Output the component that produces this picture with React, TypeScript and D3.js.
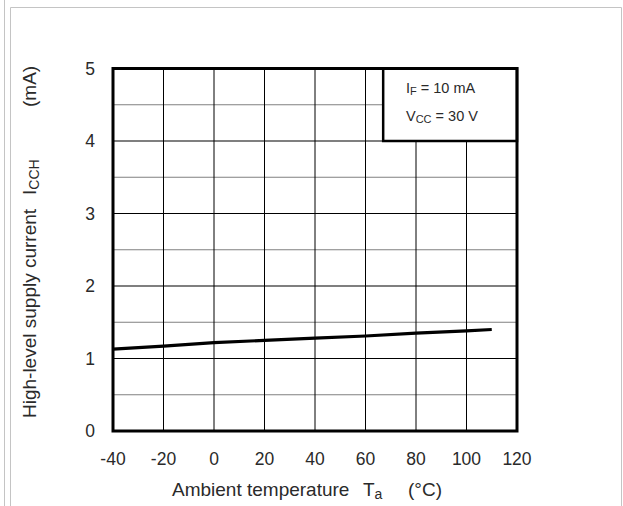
import React from "react";
import * as d3 from "d3";

const temps = [-40, -20, 0, 20, 40, 60, 80, 100, 110];
const currents = [1.13, 1.17, 1.22, 1.25, 1.28, 1.31, 1.35, 1.38, 1.4];
const xTicks = [-40, -20, 0, 20, 40, 60, 80, 100, 120];
const yTicks = [0, 1, 2, 3, 4, 5];
const yMinor = [0.5, 1.5, 2.5, 3.5, 4.5];

const W = 623;
const H = 506;

export default function App() {
  const x = d3.scaleLinear().domain([-40, 120]).range([113, 517]);
  const y = d3.scaleLinear().domain([0, 5]).range([431, 68.5]);
  const line = d3
    .line<number>()
    .x((_, i) => x(temps[i]))
    .y((d) => y(d));
  const font = "'Liberation Sans', Arial, sans-serif";
  const txt = "#2a2a2a";
  return (
    <svg
      width={W}
      height={H}
      style={{ position: "absolute", left: 0, top: 0, background: "#fff" }}
      fontFamily={font}
    >
      <rect x={0} y={0} width={W} height={H} fill="#fff" />
      {/* page borders */}
      <line x1={4.5} x2={4.5} y1={0} y2={H} stroke="#c4c4c4" strokeWidth={1} />
      <line x1={10.5} x2={10.5} y1={7.5} y2={H} stroke="#c4c4c4" strokeWidth={1} />
      <line x1={10.5} x2={621.5} y1={7.5} y2={7.5} stroke="#c4c4c4" strokeWidth={1} />
      <line x1={621.5} x2={621.5} y1={7.5} y2={H} stroke="#c4c4c4" strokeWidth={1} />

      {/* grid */}
      {yMinor.map((v) => (
        <line key={"m" + v} x1={x(-40)} x2={x(120)} y1={y(v)} y2={y(v)} stroke="#808080" strokeWidth={1.2} />
      ))}
      {yTicks.map((v) => (
        <line key={"y" + v} x1={x(-40)} x2={x(120)} y1={y(v)} y2={y(v)} stroke="#000" strokeWidth={1.2} />
      ))}
      {xTicks.map((v) => (
        <line key={"x" + v} x1={x(v)} x2={x(v)} y1={y(0)} y2={y(5)} stroke="#000" strokeWidth={1} />
      ))}

      {/* legend box */}
      <rect
        x={x(67)}
        y={y(5)}
        width={x(120) - x(67)}
        height={y(4) - y(5)}
        fill="#fff"
        stroke="#000"
        strokeWidth={2.5}
      />
      <text x={406} y={93} fontSize={14.5} fill={txt}>
        I<tspan fontSize={11} dy={2}>F</tspan>
        <tspan dy={-2}> = 10 mA</tspan>
      </text>
      <text x={406} y={121} fontSize={14.5} fill={txt}>
        V<tspan fontSize={11} dy={2}>CC</tspan>
        <tspan dy={-2}> = 30 V</tspan>
      </text>

      {/* frame */}
      <rect
        x={x(-40)}
        y={y(5)}
        width={x(120) - x(-40)}
        height={y(0) - y(5)}
        fill="none"
        stroke="#000"
        strokeWidth={3}
      />

      {/* curve */}
      <path d={line(currents) || ""} fill="none" stroke="#000" strokeWidth={3.2} />

      {/* tick labels */}
      {yTicks.map((v) => (
        <text key={"yl" + v} x={95} y={y(v)} dy="0.36em" textAnchor="end" fontSize={17.5} fill={txt}>
          {v}
        </text>
      ))}
      {xTicks.map((v) => (
        <text key={"xl" + v} x={x(v)} y={465} textAnchor="middle" fontSize={17.5} fill={txt}>
          {v}
        </text>
      ))}

      {/* x title */}
      <text x={172} y={496} fontSize={19} fill={txt}>
        Ambient temperature
      </text>
      <text x={363} y={496} fontSize={19} fill={txt}>
        T<tspan fontSize={14} dy={3}>a</tspan>
      </text>
      <text x={408} y={496} fontSize={19} fill={txt}>
        (°C)
      </text>

      {/* y title */}
      <g transform="translate(36,418) rotate(-90)">
        <text x={0} y={0} fontSize={19} fill={txt}>
          High-level supply current
        </text>
        <text x={223} y={0} fontSize={19} fill={txt}>
          I<tspan fontSize={14} dy={3}>CCH</tspan>
        </text>
        <text x={311} y={0} fontSize={19} fill={txt}>
          (mA)
        </text>
      </g>
    </svg>
  );
}
